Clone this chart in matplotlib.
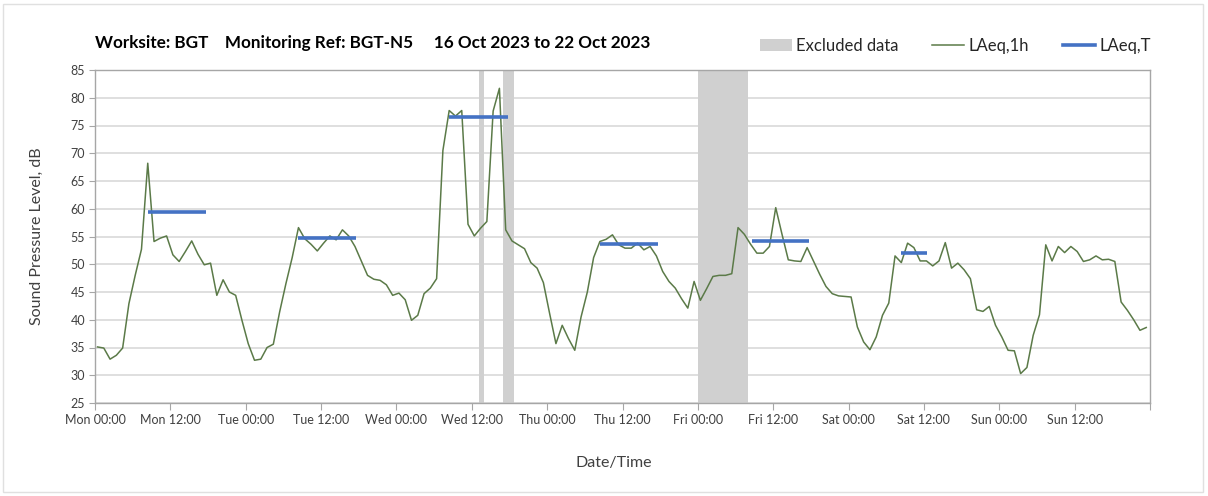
import matplotlib
matplotlib.use("Agg")
import matplotlib.pyplot as plt
from matplotlib.patches import Patch, Rectangle
from matplotlib.lines import Line2D
import numpy as np

plt.rcParams['font.family'] = ['Lato', 'DejaVu Sans']

# hourly LAeq,1h values, Mon 00:00 to Sun 23:00
laeq_1h = [
    35.1, 34.9, 32.9, 33.6, 34.9, 42.9, 48.0, 52.7, 68.2, 54.1, 54.7, 55.1,
    51.7, 50.5, 52.3, 54.2, 51.8, 49.9, 50.2, 44.4, 47.2, 45.0, 44.4, 39.9,
    35.7, 32.7, 32.9, 35.0, 35.6, 41.4, 46.5, 51.2, 56.6, 54.6, 53.6, 52.4,
    53.8, 55.1, 54.4, 56.2, 55.1, 53.2, 50.6, 48.0, 47.3, 47.1, 46.3, 44.4,
    44.8, 43.6, 39.9, 40.8, 44.7, 45.7, 47.4, 70.5, 77.7, 76.7, 77.7, 57.2,
    55.1, 56.5, 57.7, 77.6, 81.7, 56.2, 54.2, 53.5, 52.8, 50.3, 49.3, 46.7,
    41.1, 35.7, 39.0, 36.6, 34.5, 40.5, 45.0, 51.2, 54.1, 54.5, 55.3, 53.5,
    52.9, 52.9, 53.8, 52.6, 53.2, 51.5, 48.7, 46.9, 45.7, 43.8, 42.1, 46.9,
    43.5, 45.6, 47.8, 48.0, 48.0, 48.3, 56.6, 55.4, 53.6, 52.0, 52.0, 53.2,
    60.2, 55.4, 50.8, 50.6, 50.5, 53.0, 50.6, 48.2, 46.0, 44.7, 44.3, 44.2,
    44.1, 38.7, 36.0, 34.6, 36.9, 40.8, 43.0, 51.5, 50.3, 53.8, 53.0, 50.6,
    50.6, 49.7, 50.6, 53.9, 49.3, 50.2, 49.0, 47.4, 41.8, 41.5, 42.4, 39.0,
    36.9, 34.5, 34.4, 30.3, 31.4, 37.2, 40.9, 53.5, 50.6, 53.2, 52.1, 53.2,
    52.3, 50.5, 50.8, 51.5, 50.8, 50.9, 50.5, 43.2, 41.7, 40.0, 38.1, 38.6,
]

# LAeq,T periods (hours from Mon 00:00) and levels
laeq_t_start = [8.5, 32.4, 56.4, 80.4, 104.6, 128.4]
laeq_t_end = [17.7, 41.6, 65.8, 89.6, 113.7, 132.5]
laeq_t_level = [59.4, 54.8, 76.6, 53.6, 54.2, 52.0]

# excluded data periods (hours from Mon 00:00)
excl_start = [61.1, 64.9, 96.0]
excl_end = [62.0, 66.8, 104.0]

days = ['Mon', 'Tue', 'Wed', 'Thu', 'Fri', 'Sat', 'Sun']
tick_labels = [f"{d} {t}" for d in days for t in ('00:00', '12:00')]

hours = np.arange(len(laeq_1h)) + 0.4

fig = plt.figure(figsize=(12.08, 4.96), dpi=100)
ax = fig.add_axes([95 / 1208, 1 - 403 / 496, (1150 - 95) / 1208, (403 - 70) / 496])

for s, e in zip(excl_start, excl_end):
    ax.axvspan(s, e, color='#d0d0d0', lw=0, zorder=1)

ax.plot(hours, laeq_1h, color='#5b7a48', lw=1.1, zorder=3)
for s, e, v in zip(laeq_t_start, laeq_t_end, laeq_t_level):
    ax.plot([s, e], [v, v], color='#4472c4', lw=2.6, solid_capstyle='butt', zorder=4)

ax.set_xlim(0, 168)
ax.set_ylim(25, 85)
ax.set_yticks(np.arange(25, 86, 5))
ax.set_xticks(np.arange(0, 169, 12))
ax.set_xticklabels(tick_labels + [''])
ax.set_xticks(np.arange(0, 169, 24), minor=True)

ax.grid(axis='y', color='#d9d9d9', lw=1.2, zorder=0)
ax.grid(axis='x', which='minor', color='#d9d9d9', lw=1.0, zorder=0)
ax.set_axisbelow(True)

for sp in ax.spines.values():
    sp.set_color('#a6a6a6')
    sp.set_linewidth(1.0)

ax.tick_params(axis='x', which='major', length=5, color='#a6a6a6', labelsize=9,
               labelcolor='#404040', pad=3)
ax.tick_params(axis='x', which='minor', length=0)
ax.tick_params(axis='y', length=4, color='#a6a6a6', labelsize=9, labelcolor='#404040', pad=3)

ax.set_ylabel('Sound Pressure Level, dB', fontsize=11.5, color='#404040', labelpad=19)
fig.text(614 / 1208, 1 - 463 / 496, 'Date/Time', ha='center', va='center',
         fontsize=11.5, color='#404040')

fig.text(95 / 1208, 1 - 43 / 496,
         'Worksite: BGT    Monitoring Ref: BGT-N5     16 Oct 2023 to 22 Oct 2023',
         ha='left', va='center', fontsize=12.3, fontweight='bold', color='#000000')

handles = [
    Patch(facecolor='#d0d0d0', edgecolor='none'),
    Line2D([], [], color='#5b7a48', lw=1.1),
    Line2D([], [], color='#4472c4', lw=2.6),
]
leg = fig.legend(handles, ['Excluded data', 'LAeq,1h', 'LAeq,T'], loc='center right',
                 bbox_to_anchor=(1166 / 1208, 1 - 46 / 496), ncol=3, frameon=False,
                 fontsize=12, handlelength=1.9, handletextpad=0.3, columnspacing=2.0)
for t in leg.get_texts():
    t.set_color('#262626')

fig.patches.append(Rectangle((3 / 1208, 4 / 496), 1200 / 1208, 488 / 496,
                             transform=fig.transFigure, fill=False,
                             edgecolor='#e0e0e0', lw=1.0))

fig.savefig('out.png', dpi=100)
